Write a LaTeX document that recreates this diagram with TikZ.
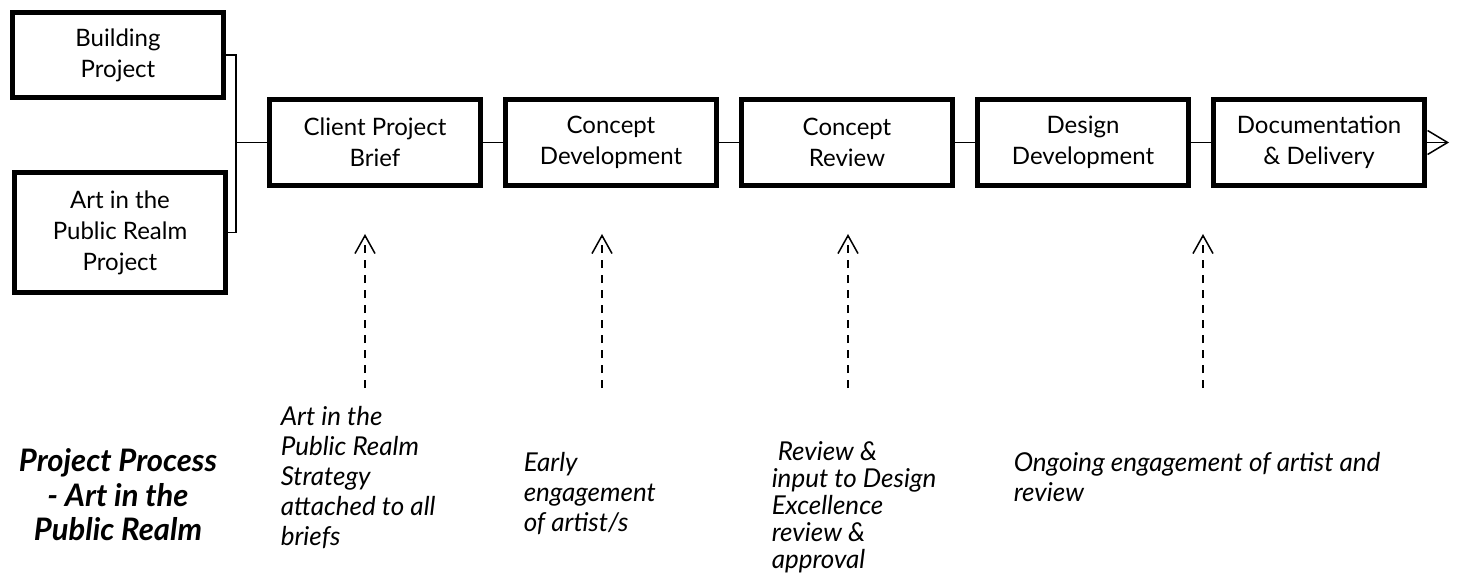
\documentclass[tikz,border=0pt]{standalone}
\usepackage{fontspec}
\setmainfont{Lato}
\usepackage{tikz}
\usetikzlibrary{arrows.meta,positioning}

\begin{document}
\begin{tikzpicture}[x=1pt,y=-1pt,node distance=236pt,line width=1.5pt,
    >={Straight Barb[length=18pt,width=20pt]}]

        \tikzstyle{stage}=[draw=black,line width=5pt,fill=white,inner sep=0pt,
            minimum width=211pt,minimum height=86pt,align=center,
            font=\fontsize{24}{31}\selectfont]
        \tikzstyle{note}=[anchor=north west,align=left,inner sep=0pt,
            font=\fontsize{26}{30}\selectfont\itshape]
        \tikzstyle{feed}=[->,dash pattern=on 8pt off 7pt]

        \useasboundingbox (0,0) rectangle (1458,577);

        % start projects
        \node[stage,minimum height=85pt]  (build) at (118,55)    {Building\\Project};
        \node[stage,minimum height=120pt] (art)   at (120,232.5) {Art in the\\Public Realm\\Project};

        % process steps
        \node[stage] (brief)            at (375,142.5) {Client Project\\Brief};
        \node[stage] (cdev) [right of=brief] {Concept\\Development};
        \node[stage] (crev) [right of=cdev]  {Concept\\Review};
        \node[stage] (ddev) [right of=crev]  {Design\\Development};
        \node[stage] (doc)  [right of=ddev]  {Documentation\\\& Delivery};

        \coordinate (join) at (236,142.5);
        \coordinate (out)  at (1449,142.5);

        \draw (build.east) -| (join) |- (art.east);
        \draw (join) -- (brief);
        \path (brief) edge (cdev)
              (cdev)  edge (crev)
              (crev)  edge (ddev)
              (ddev)  edge (doc);
        \draw[-{Straight Barb[length=20pt,width=24pt]}] (doc.east) -- (out);

        % input from the strategy
        \coordinate (u1) at (365,234);  \coordinate (n1) at (365,388);
        \coordinate (u2) at (602,234);  \coordinate (n2) at (602,388);
        \coordinate (u3) at (848,234);  \coordinate (n3) at (848,388);
        \coordinate (u4) at (1203,234); \coordinate (n4) at (1203,388);
        \draw[feed] (n1) -- (u1);
        \draw[feed] (n2) -- (u2);
        \draw[feed] (n3) -- (u3);
        \draw[feed] (n4) -- (u4);

        \node[note] (strategy) at (280,406)  {Art in the\\Public Realm\\Strategy\\attached to all\\briefs};
        \node[note] (early)    at (523,452)  {Early\\engagement\\of artist/s};
        \node[note,font=\fontsize{26}{27}\selectfont\itshape] (excel) at (771,441)
              {\hspace*{6pt}Review \&\\input to Design\\Excellence\\review \&\\approval};
        \node[note] (ongoing)  at (1013,452) {Ongoing engagement of artist and\\review};

        \node[anchor=north,align=center,inner sep=0pt,
              font=\fontsize{31}{34.5}\selectfont\bfseries\itshape] (title) at (118,448)
              {Project Process\\- Art in the\\Public Realm};
    \end{tikzpicture}
\end{document}
